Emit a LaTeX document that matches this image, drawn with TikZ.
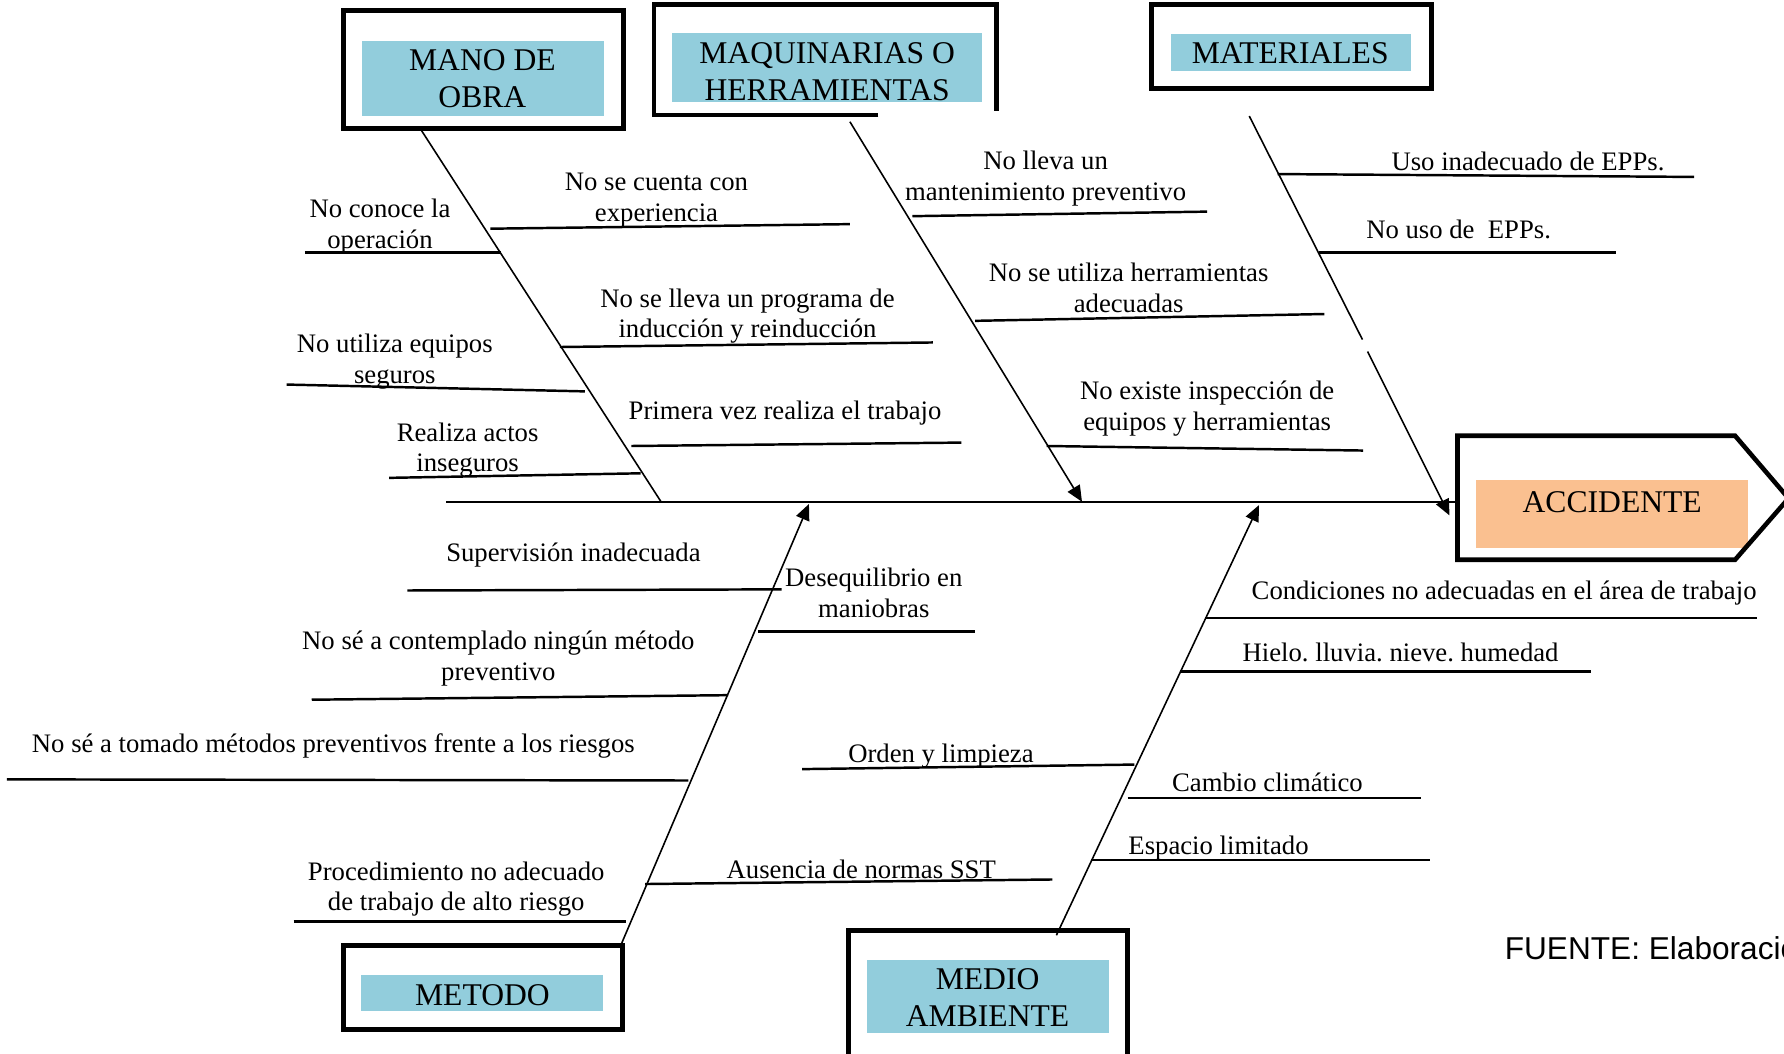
\documentclass[tikz,border=0pt]{standalone}
\usepackage{fontspec}
\setmainfont{Liberation Serif}
\newfontfamily\arialfont{Liberation Sans}
\usetikzlibrary{arrows.meta}
\definecolor{catblue}{HTML}{92CDDC}
\definecolor{effectorange}{HTML}{FAC090}

\begin{document}
\frenchspacing
\begin{tikzpicture}[x = 0.011378cm, y = -0.011378cm,
  rib/.style = {line width = .7pt},
  spine/.style = {line width = .45pt},
  catframe/.style = {line width = 1.3pt},
  headed/.style = {-{Triangle[length = 1.6mm, width = 1.4mm]}}]
\def\cause{node [font = \fontsize{7.6}{8.7}\selectfont, align = center, yshift = -.8pt] }
\def\category{node [font = \fontsize{9}{10.6}\selectfont, align = center] }
\useasboundingbox (0, 0) rectangle (1568, 926);
\clip (0, 0) rectangle (1568, 926);

\fill [catblue] (318, 36) rectangle (531, 102);
\draw [catframe] (302, 9) rectangle (548, 113);
\path (424, 69) \category (mano) {MANO DE\\OBRA};

\fill [catblue] (591, 29) rectangle (863, 90);
\draw [catframe] (772, 101) -- (575, 101) -- (575, 4) -- (876, 4) -- (876, 98);
\path (727, 63) \category (maquinas) {MAQUINARIAS O\\HERRAMIENTAS};

\fill [catblue] (1029, 30) rectangle (1240, 62);
\draw [catframe] (1012, 4) rectangle (1258, 78);
\path (1134, 47) \category (materiales) {MATERIALES};

\fill [effectorange] (1297, 422) rectangle (1536, 482);
\draw [catframe] (1281, 383) -- (1525, 383) -- (1572, 438) -- (1525, 492) -- (1281, 492) -- cycle;
\path (1417, 441) \category (accidente) {ACCIDENTE};

\fill [catblue] (317, 857) rectangle (530, 889);
\draw [catframe] (302, 831) rectangle (547, 905);
\path (424, 875) \category (metodo) {METODO};

\fill [catblue] (762, 844) rectangle (975, 908);
\draw [catframe] (746, 818) rectangle (991, 940);
\path (868, 877) \category (medio) {MEDIO\\AMBIENTE};

\node [font = \arialfont\fontsize{9}{10.8}\selectfont, inner sep = 0, anchor = base west] (fuente) at (1322, 843) {FUENTE: Elaboración};

\coordinate (tail) at (392, 441);
\coordinate (head) at (1281, 441);
\coordinate (manotop) at (370, 114);
\coordinate (manofoot) at (581, 441);
\coordinate (maqtop) at (747, 107);
\coordinate (maqfoot) at (951, 441);
\coordinate (mattop) at (1098, 102);
\coordinate (matgapa) at (1197.5, 298.5);
\coordinate (matgapb) at (1202, 309);
\coordinate (matfoot) at (1274, 453);
\coordinate (metbase) at (546, 830);
\coordinate (metjoint) at (711, 443);
\coordinate (medbase) at (928.5, 822);
\coordinate (medjoint) at (1106.5, 444);

\draw [rib] (tail) -- (head);
\draw [spine] (manotop) -- (manofoot);
\draw [spine, headed] (maqtop) -- (maqfoot);
\draw [spine] (mattop) -- (matgapa);
\draw [spine, headed] (matgapb) -- (matfoot);
\draw [spine, headed] (metbase) -- (metjoint);
\draw [spine, headed] (medbase) -- (medjoint);

\coordinate (mo1l) at (268, 222);
\coordinate (mo1r) at (440, 222);
\coordinate (mo2l) at (431, 201);
\coordinate (mo2r) at (747, 197);
\coordinate (mo3l) at (492, 305);
\coordinate (mo3r) at (820, 301);
\coordinate (mo4l) at (252, 338);
\coordinate (mo4r) at (514, 344);
\coordinate (mo5l) at (555, 392);
\coordinate (mo5r) at (845, 389);
\coordinate (mo6l) at (342, 420);
\coordinate (mo6r) at (563, 416);

\coordinate (mq1l) at (802, 190);
\coordinate (mq1r) at (1061, 186);
\coordinate (mq2l) at (857, 282);
\coordinate (mq2r) at (1164, 276);
\coordinate (mq3l) at (920, 392);
\coordinate (mq3r) at (1198, 396);

\coordinate (mt1l) at (1123, 153);
\coordinate (mt1r) at (1489, 155.5);
\coordinate (mt2l) at (1159, 222);
\coordinate (mt2r) at (1420, 222);

\coordinate (me1l) at (358, 519);
\coordinate (me1r) at (687, 518);
\coordinate (me2l) at (666, 555);
\coordinate (me2r) at (857, 555);
\coordinate (me3l) at (274, 615);
\coordinate (me3r) at (640, 611);
\coordinate (me4l) at (6, 685);
\coordinate (me4r) at (605, 686);
\coordinate (me5l) at (258, 810);
\coordinate (me5r) at (550, 810);
\coordinate (me6l) at (567, 777);
\coordinate (me6r) at (925, 773);

\coordinate (ma1l) at (1059, 543);
\coordinate (ma1r) at (1544, 543);
\coordinate (ma2l) at (1037, 590);
\coordinate (ma2r) at (1398, 590);
\coordinate (ma3l) at (705, 676);
\coordinate (ma3r) at (997, 672);
\coordinate (ma4l) at (991, 701.5);
\coordinate (ma4r) at (1249, 701.5);
\coordinate (ma5l) at (959, 756);
\coordinate (ma5r) at (1257, 756);

\foreach \r in {mo1, mo2, mo3, mo4, mo5, mo6, mq1, mq2, mq3, mt1, mt2, me1, me2, me3, me4, me5, me6, ma1, ma2, ma3, ma4, ma5}
  \draw [rib] (\r l) -- (\r r);

\path (334, 196.5) \cause (noconoce) {No conoce la\\operación};
\path (577, 173.5) \cause (nocuenta) {No se cuenta con\\experiencia};
\path (657, 275.5) \cause (noprograma) {No se lleva un programa de\\inducción y reinducción};
\path (347, 315.5) \cause (noequipos) {No utiliza equipos\\seguros};
\path (690, 361) \cause (primera) {Primera vez realiza el trabajo};
\path (411, 393) \cause (actos) {Realiza actos\\inseguros};

\path (919, 154.5) \cause (nomant) {No lleva un\\mantenimiento preventivo};
\path (992, 250.5) \cause (noherr) {No se utiliza herramientas\\adecuadas};
\path (1061, 356.5) \cause (noinsp) {No existe inspección de\\equipos y herramientas};

\path (1343, 139) \cause (usoepp) {Uso inadecuado de EPPs.};
\path (1282, 199) \cause (nousoepp) {No uso de\ \ EPPs.};

\path (504, 485) \cause (supervision) {Supervisión inadecuada};
\path (768, 518.5) \cause (desequilibrio) {Desequilibrio en\\maniobras};
\path (438, 576.5) \cause (contemplado) {No sé a contemplado ningún método\\preventivo};
\path (293, 653) \cause (tomado) {No sé a tomado métodos preventivos frente a los riesgos};
\path (401, 779) \cause (procedimiento) {Procedimiento no adecuado\\de trabajo de alto riesgo};
\path (757, 762) \cause (ausencia) {Ausencia de normas SST};

\path (1322, 519) \cause (condiciones) {Condiciones no adecuadas en el área de trabajo};
\path (1231, 571) \cause (hielo) {Hielo. lluvia. nieve. humedad};
\path (827, 662) \cause (orden) {Orden y limpieza};
\path (1114, 685) \cause (cambio) {Cambio climático};
\path (1071, 743) \cause (espacio) {Espacio limitado};
\end{tikzpicture}
\end{document}
